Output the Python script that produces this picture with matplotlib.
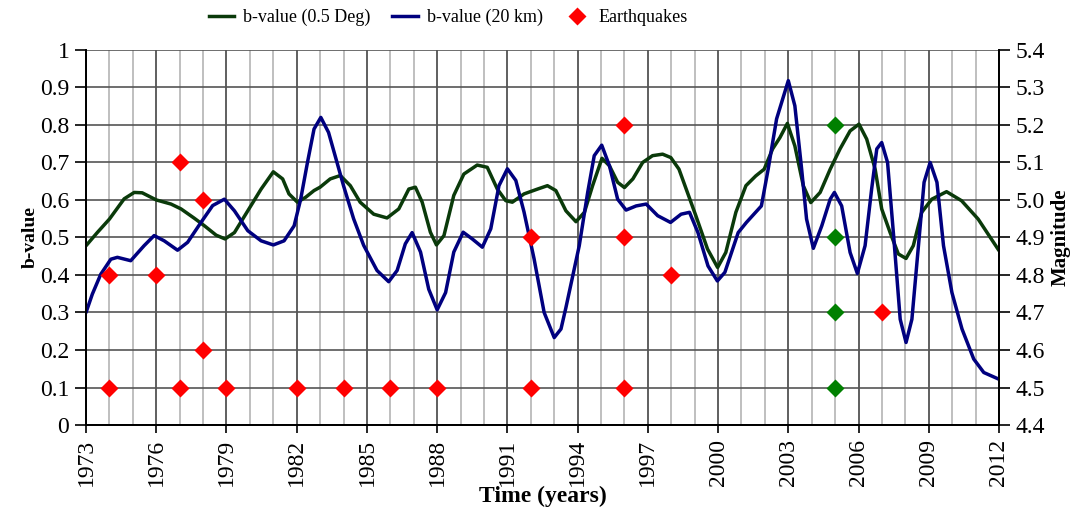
#!/usr/bin/env python3
import matplotlib
matplotlib.use("Agg")
import matplotlib.pyplot as plt
from matplotlib.lines import Line2D

plt.rcParams["font.family"] = ["Liberation Serif", "DejaVu Serif"]

# b-value, 0.5 degree grid
green_years = [
    1973.0, 1973.48, 1974.0, 1974.63, 1975.06, 1975.4, 1976.0, 1976.63, 1977.06,
    1977.63, 1978.06, 1978.56, 1978.94, 1979.34, 1979.91, 1980.48, 1981.0,
    1981.4, 1981.67, 1982.03, 1982.38, 1982.74, 1983.0, 1983.43, 1983.86,
    1984.29, 1984.71, 1985.29, 1985.86, 1986.36, 1986.79, 1987.07, 1987.36,
    1987.71, 1987.97, 1988.29, 1988.71, 1989.14, 1989.71, 1990.14, 1990.57,
    1990.93, 1991.21, 1991.71, 1992.29, 1992.71, 1993.07, 1993.5, 1993.93,
    1994.29, 1994.64, 1995.04, 1995.36, 1995.71, 1996.0, 1996.36, 1996.78,
    1997.2, 1997.63, 1997.98, 1998.33, 1998.69, 1999.05, 1999.55, 1999.98,
    2000.33, 2000.76, 2001.19, 2001.61, 2001.97, 2002.33, 2002.64, 2002.96,
    2003.28, 2003.64, 2003.96, 2004.36, 2004.79, 2005.21, 2005.64, 2006.02,
    2006.35, 2006.71, 2006.99, 2007.35, 2007.7, 2008.03, 2008.34, 2008.7,
    2009.13, 2009.76, 2010.4, 2011.11, 2012.0,
]
green_bvalue = [
    0.478, 0.513, 0.549, 0.603, 0.620, 0.619, 0.600, 0.589, 0.576,
    0.551, 0.531, 0.506, 0.496, 0.513, 0.571, 0.629, 0.675,
    0.656, 0.616, 0.594, 0.607, 0.625, 0.634, 0.656, 0.665,
    0.638, 0.594, 0.562, 0.552, 0.576, 0.629, 0.634, 0.594,
    0.514, 0.480, 0.505, 0.612, 0.669, 0.693, 0.687, 0.629,
    0.598, 0.594, 0.616, 0.629, 0.638, 0.625, 0.571, 0.542,
    0.567, 0.638, 0.711, 0.691, 0.647, 0.633, 0.656, 0.700,
    0.718, 0.722, 0.713, 0.682, 0.620, 0.558, 0.469, 0.420,
    0.460, 0.567, 0.638, 0.664, 0.682, 0.736, 0.766, 0.804,
    0.744, 0.638, 0.593, 0.620, 0.682, 0.736, 0.784, 0.802,
    0.762, 0.682, 0.576, 0.513, 0.456, 0.444, 0.478, 0.567,
    0.602, 0.622, 0.598, 0.549, 0.465,
]

# b-value, 20 km radius
blue_years = [
    1973.0, 1973.27, 1973.63, 1974.06, 1974.34, 1974.91, 1975.48, 1975.91,
    1976.34, 1976.91, 1977.34, 1977.91, 1978.41, 1978.91, 1979.34, 1979.91,
    1980.48, 1981.0, 1981.46, 1981.89, 1982.17, 1982.46, 1982.74, 1983.03,
    1983.36, 1983.64, 1984.0, 1984.43, 1984.86, 1985.43, 1985.93, 1986.29,
    1986.64, 1986.93, 1987.29, 1987.64, 1988.0, 1988.36, 1988.71, 1989.11,
    1989.5, 1989.93, 1990.29, 1990.64, 1991.0, 1991.36, 1991.71, 1992.14,
    1992.57, 1993.0, 1993.29, 1993.5, 1994.07, 1994.43, 1994.71, 1995.03,
    1995.36, 1995.71, 1996.07, 1996.5, 1996.93, 1997.42, 1997.97, 1998.42,
    1998.78, 1999.14, 1999.57, 1999.97, 2000.29, 2000.86, 2001.21, 2001.85,
    2002.14, 2002.5, 2003.0, 2003.28, 2003.57, 2003.78, 2004.07, 2004.43,
    2004.79, 2004.97, 2005.28, 2005.64, 2005.95, 2006.28, 2006.56, 2006.78,
    2006.99, 2007.24, 2007.5, 2007.78, 2008.03, 2008.28, 2008.56, 2008.8,
    2009.06, 2009.35, 2009.63, 2009.99, 2010.42, 2010.92, 2011.35, 2012.0,
]
blue_bvalue = [
    0.300, 0.349, 0.402, 0.442, 0.447, 0.438, 0.478, 0.505,
    0.491, 0.466, 0.487, 0.540, 0.585, 0.602, 0.571, 0.518,
    0.491, 0.480, 0.491, 0.531, 0.602, 0.700, 0.789, 0.820,
    0.780, 0.718, 0.638, 0.550, 0.479, 0.412, 0.382, 0.412,
    0.483, 0.513, 0.461, 0.362, 0.307, 0.353, 0.461, 0.514,
    0.496, 0.474, 0.523, 0.638, 0.683, 0.652, 0.568, 0.443,
    0.300, 0.233, 0.256, 0.313, 0.478, 0.620, 0.718, 0.746,
    0.691, 0.602, 0.573, 0.584, 0.589, 0.558, 0.540, 0.562,
    0.567, 0.513, 0.424, 0.384, 0.407, 0.513, 0.540, 0.584,
    0.682, 0.816, 0.918, 0.851, 0.682, 0.549, 0.471, 0.531,
    0.602, 0.620, 0.584, 0.460, 0.404, 0.478, 0.629, 0.736,
    0.753, 0.700, 0.504, 0.282, 0.220, 0.282, 0.478, 0.647,
    0.700, 0.647, 0.478, 0.353, 0.256, 0.176, 0.140, 0.122,
]

# earthquakes (right axis, magnitude)
red_eq_years = [1974, 1974, 1976, 1977, 1977, 1978, 1978, 1979, 1982, 1984,
                1986, 1988, 1992, 1992, 1996, 1996, 1996, 1998, 2007]
red_eq_mag = [4.8, 4.5, 4.8, 5.1, 4.5, 5.0, 4.6, 4.5, 4.5, 4.5,
              4.5, 4.5, 4.9, 4.5, 5.2, 4.9, 4.5, 4.8, 4.7]
green_eq_years = [2005, 2005, 2005, 2005]
green_eq_mag = [5.2, 4.9, 4.7, 4.5]

year_ticks = list(range(1973, 2013, 3))
year_minor = list(range(1973, 2013))
b_ticks = [i / 10 for i in range(11)]
b_labels = ["0"] + [f"0.{i}" for i in range(1, 10)] + ["1"]
mag_ticks = [4.4 + i / 10 for i in range(11)]
mag_labels = [f"{m:.1f}" for m in mag_ticks]

C_GREEN = "#0a3a0a"
C_BLUE = "#00007f"

fig = plt.figure(figsize=(10.78, 5.09), dpi=100)
ax = fig.add_axes([0.0798, 0.165, 0.8469, 0.737])

ax.plot(green_years, green_bvalue, color=C_GREEN, lw=2.5, solid_joinstyle="round",
        solid_capstyle="round", zorder=3)
ax.plot(blue_years, blue_bvalue, color=C_BLUE, lw=2.5, solid_joinstyle="round",
        solid_capstyle="round", zorder=3)

ax.set_xlim(1973, 2012)
ax.set_ylim(0, 1)
ax.set_xticks(year_ticks)
ax.set_xticks(year_minor, minor=True)
ax.set_yticks(b_ticks)
ax.set_yticklabels(b_labels)
ax.grid(which="minor", axis="x", color="#b4b4b4", lw=1.2)
ax.grid(which="major", axis="x", color="#444444", lw=1.2)
ax.grid(which="major", axis="y", color="#555555", lw=1.2)
ax.set_axisbelow(True)
for s in ax.spines.values():
    s.set_linewidth(1.3)
ax.spines["top"].set_visible(False)
ax.tick_params(axis="x", which="major", direction="out", length=6, width=1.2,
               labelsize=17, labelrotation=90, pad=4)
ax.tick_params(axis="x", which="minor", length=0)
ax.tick_params(axis="y", direction="out", length=8, width=1.2, labelsize=17, pad=4)
ax.set_ylabel("b-value", fontsize=14, fontweight="bold", labelpad=1)
ax.set_xlabel("Time (years)", fontsize=17, fontweight="bold", labelpad=0)

ax2 = ax.twinx()
ax2.set_ylim(4.4, 5.4)
ax2.set_yticks(mag_ticks)
ax2.set_yticklabels(mag_labels)
ax2.tick_params(axis="y", direction="out", length=8, width=1.2, labelsize=17, pad=4)
for s in ax2.spines.values():
    s.set_linewidth(1.3)
ax2.spines["top"].set_visible(False)
ax2.plot(red_eq_years, red_eq_mag, ls="none", marker="D", ms=9, color="#ff0000",
         mec="none", zorder=4)
ax2.plot(green_eq_years, green_eq_mag, ls="none", marker="D", ms=9, color="#008000",
         mec="none", zorder=4)
ax2.set_ylabel("Magnitude", fontsize=15, fontweight="bold", labelpad=4)

handles = [
    Line2D([], [], color=C_GREEN, lw=2.5),
    Line2D([], [], color=C_BLUE, lw=2.5),
    Line2D([], [], ls="none", marker="D", ms=9, color="#ff0000", mec="none"),
]
fig.legend(handles, ["b-value (0.5 Deg)", "b-value (20 km)", "Earthquakes"],
           loc="center", bbox_to_anchor=(0.416, 0.965), ncol=3, frameon=False,
           fontsize=13, handlelength=1.4, columnspacing=1.2, handletextpad=0.5)

fig.savefig("out.png", dpi=100)
